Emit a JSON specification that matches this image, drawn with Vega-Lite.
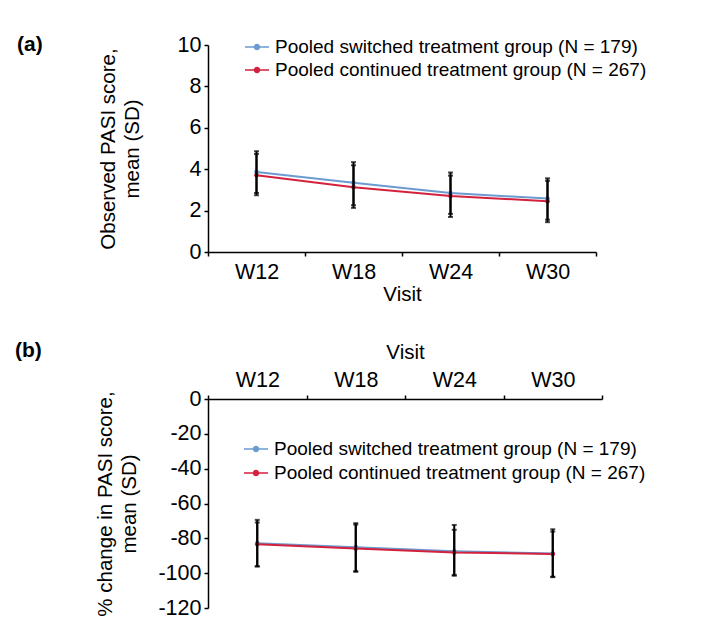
{
  "$schema": "https://vega.github.io/schema/vega-lite/v6.json",
  "padding": {"left": 14, "top": 34, "right": 5, "bottom": 5},
  "config": {
    "font": "Liberation Sans",
    "view": {"stroke": null},
    "axis": {
      "labelFont": "Liberation Sans", "labelFontSize": 21.5, "labelColor": "black",
      "titleFont": "Liberation Sans", "titleFontSize": 20.5, "titleFontWeight": "normal", "titleColor": "black",
      "domainColor": "black", "domainWidth": 1.5, "tickColor": "black", "tickWidth": 1.5, "tickSize": 4, "grid": false, "labelOverlap": false
    },
    "legend": {
      "labelFont": "Liberation Sans", "labelFontSize": 19, "labelColor": "black", "labelLimit": 500
    },
    "title": {"font": "Liberation Sans", "fontSize": 21, "fontWeight": "bold", "color": "black"}
  },
  "datasets": {
    "pasi": [
      {"visit": "W12", "group": "Pooled switched treatment group (N = 179)", "mean": 3.87, "low": 2.85, "high": 4.87},
      {"visit": "W18", "group": "Pooled switched treatment group (N = 179)", "mean": 3.34, "low": 2.26, "high": 4.34},
      {"visit": "W24", "group": "Pooled switched treatment group (N = 179)", "mean": 2.85, "low": 1.84, "high": 3.84},
      {"visit": "W30", "group": "Pooled switched treatment group (N = 179)", "mean": 2.58, "low": 1.56, "high": 3.56},
      {"visit": "W12", "group": "Pooled continued treatment group (N = 267)", "mean": 3.71, "low": 2.74, "high": 4.74},
      {"visit": "W18", "group": "Pooled continued treatment group (N = 267)", "mean": 3.13, "low": 2.13, "high": 4.19},
      {"visit": "W24", "group": "Pooled continued treatment group (N = 267)", "mean": 2.71, "low": 1.69, "high": 3.69},
      {"visit": "W30", "group": "Pooled continued treatment group (N = 267)", "mean": 2.45, "low": 1.44, "high": 3.44}
    ],
    "pct": [
      {"visit": "W12", "group": "Pooled switched treatment group (N = 179)", "mean": -82.8, "low": -96.0, "high": -69.4},
      {"visit": "W18", "group": "Pooled switched treatment group (N = 179)", "mean": -85.1, "low": -98.9, "high": -71.3},
      {"visit": "W24", "group": "Pooled switched treatment group (N = 179)", "mean": -87.4, "low": -101.0, "high": -72.3},
      {"visit": "W30", "group": "Pooled switched treatment group (N = 179)", "mean": -88.7, "low": -102.0, "high": -74.8},
      {"visit": "W12", "group": "Pooled continued treatment group (N = 267)", "mean": -83.4, "low": -96.2, "high": -70.9},
      {"visit": "W18", "group": "Pooled continued treatment group (N = 267)", "mean": -85.9, "low": -99.2, "high": -72.1},
      {"visit": "W24", "group": "Pooled continued treatment group (N = 267)", "mean": -88.1, "low": -101.5, "high": -75.1},
      {"visit": "W30", "group": "Pooled continued treatment group (N = 267)", "mean": -89.0, "low": -102.3, "high": -76.1}
    ]
  },
  "resolve": {"scale": {"color": "independent"}, "legend": {"color": "independent"}},
  "spacing": 35,
  "vconcat": [
    {
      "title": {"text": "(a)", "anchor": "start", "frame": "bounds", "dx": -81, "offset": -21},
      "width": 388,
      "height": 207,
      "data": {"name": "pasi"},
      "encoding": {
        "x": {
          "field": "visit", "type": "ordinal", "sort": ["W12", "W18", "W24", "W30"],
          "scale": {"paddingInner": 0, "paddingOuter": 0},
          "axis": {"title": "Visit", "labelAngle": 0, "tickBand": "extent", "labelPadding": 5, "titlePadding": 2}
        },
        "color": {"field": "group", "type": "nominal",
          "scale": {"domain": ["Pooled switched treatment group (N = 179)", "Pooled continued treatment group (N = 267)"], "range": ["#6b9bd1", "#d4213d"]},
          "legend": {"title": null, "orient": "none", "legendX": 37, "legendY": -10,
            "symbolType": "M-1,-0.07L1,-0.07L1,0.07L-1,0.07Z M-0.27,0 A0.27,0.27 0 1,1 0.27,0 A0.27,0.27 0 1,1 -0.27,0Z",
            "symbolSize": 576, "symbolStrokeWidth": 0, "labelOffset": 6, "rowPadding": 1}}
      },
      "layer": [
        {
          "mark": {"type": "line", "strokeWidth": 2},
          "encoding": {
            "y": {"field": "mean", "type": "quantitative", "scale": {"domain": [0, 10]},
              "axis": {"title": ["Observed PASI score,", "mean (SD)"], "values": [0, 2, 4, 6, 8, 10], "titlePadding": 35, "labelPadding": 3, "titleLineHeight": 24}}
          }
        },
        {
          "mark": {"type": "circle", "size": 22, "opacity": 1},
          "encoding": {"y": {"field": "mean", "type": "quantitative",
            "axis": {"title": ["Observed PASI score,", "mean (SD)"], "values": [0, 2, 4, 6, 8, 10], "titlePadding": 35, "labelPadding": 3, "titleLineHeight": 24}}}
        },
        {
          "mark": {"type": "rule", "color": "black", "strokeWidth": 2},
          "encoding": {"y": {"field": "low", "type": "quantitative",
            "axis": {"title": ["Observed PASI score,", "mean (SD)"], "values": [0, 2, 4, 6, 8, 10], "titlePadding": 35, "labelPadding": 3, "titleLineHeight": 24}},
            "y2": {"field": "high"}, "color": {"value": "black"}}
        },
        {
          "mark": {"type": "tick", "color": "black", "thickness": 2, "size": 5},
          "encoding": {"y": {"field": "low", "type": "quantitative",
            "axis": {"title": ["Observed PASI score,", "mean (SD)"], "values": [0, 2, 4, 6, 8, 10], "titlePadding": 35, "labelPadding": 3, "titleLineHeight": 24}},
            "color": {"value": "black"}}
        },
        {
          "mark": {"type": "tick", "color": "black", "thickness": 2, "size": 5},
          "encoding": {"y": {"field": "high", "type": "quantitative",
            "axis": {"title": ["Observed PASI score,", "mean (SD)"], "values": [0, 2, 4, 6, 8, 10], "titlePadding": 35, "labelPadding": 3, "titleLineHeight": 24}},
            "color": {"value": "black"}}
        }
      ]
    },
    {
      "title": {"text": "(b)", "anchor": "start", "frame": "bounds", "dx": -81, "offset": -19},
      "width": 394,
      "height": 209,
      "data": {"name": "pct"},
      "encoding": {
        "x": {
          "field": "visit", "type": "ordinal", "sort": ["W12", "W18", "W24", "W30"],
          "scale": {"paddingInner": 0, "paddingOuter": 0},
          "axis": {"title": "Visit", "orient": "top", "labelAngle": 0, "tickBand": "extent", "labelPadding": 4, "titlePadding": 7}
        },
        "color": {"field": "group", "type": "nominal",
          "scale": {"domain": ["Pooled switched treatment group (N = 179)", "Pooled continued treatment group (N = 267)"], "range": ["#6b9bd1", "#d4213d"]},
          "legend": {"title": null, "orient": "none", "legendX": 36, "legendY": 38,
            "symbolType": "M-1,-0.07L1,-0.07L1,0.07L-1,0.07Z M-0.27,0 A0.27,0.27 0 1,1 0.27,0 A0.27,0.27 0 1,1 -0.27,0Z",
            "symbolSize": 576, "symbolStrokeWidth": 0, "labelOffset": 6, "rowPadding": 2}}
      },
      "layer": [
        {
          "mark": {"type": "line", "strokeWidth": 2},
          "encoding": {
            "y": {"field": "mean", "type": "quantitative", "scale": {"domain": [-120, 0]},
              "axis": {"title": ["% change in PASI score,", "mean (SD)"], "values": [-120, -100, -80, -60, -40, -20, 0], "labelExpr": "'' + datum.value", "titlePadding": 18, "labelPadding": 3, "titleLineHeight": 24}}
          }
        },
        {
          "mark": {"type": "circle", "size": 22, "opacity": 1},
          "encoding": {"y": {"field": "mean", "type": "quantitative",
            "axis": {"title": ["% change in PASI score,", "mean (SD)"], "values": [-120, -100, -80, -60, -40, -20, 0], "labelExpr": "'' + datum.value", "titlePadding": 18, "labelPadding": 3, "titleLineHeight": 24}}}
        },
        {
          "mark": {"type": "rule", "color": "black", "strokeWidth": 2},
          "encoding": {"y": {"field": "low", "type": "quantitative",
            "axis": {"title": ["% change in PASI score,", "mean (SD)"], "values": [-120, -100, -80, -60, -40, -20, 0], "labelExpr": "'' + datum.value", "titlePadding": 18, "labelPadding": 3, "titleLineHeight": 24}},
            "y2": {"field": "high"}, "color": {"value": "black"}}
        },
        {
          "mark": {"type": "tick", "color": "black", "thickness": 2, "size": 5},
          "encoding": {"y": {"field": "low", "type": "quantitative",
            "axis": {"title": ["% change in PASI score,", "mean (SD)"], "values": [-120, -100, -80, -60, -40, -20, 0], "labelExpr": "'' + datum.value", "titlePadding": 18, "labelPadding": 3, "titleLineHeight": 24}},
            "color": {"value": "black"}}
        },
        {
          "mark": {"type": "tick", "color": "black", "thickness": 2, "size": 5},
          "encoding": {"y": {"field": "high", "type": "quantitative",
            "axis": {"title": ["% change in PASI score,", "mean (SD)"], "values": [-120, -100, -80, -60, -40, -20, 0], "labelExpr": "'' + datum.value", "titlePadding": 18, "labelPadding": 3, "titleLineHeight": 24}},
            "color": {"value": "black"}}
        }
      ]
    }
  ]
}
